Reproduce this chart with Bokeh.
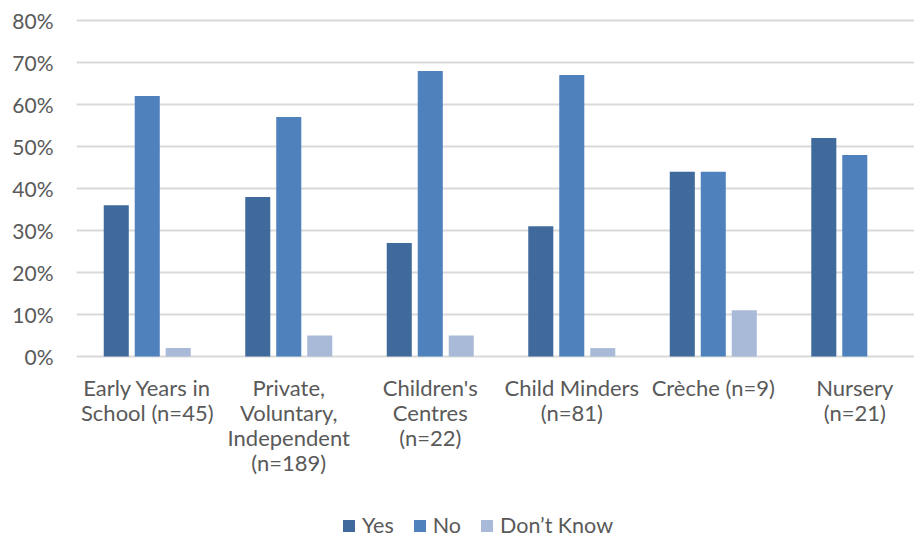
import numpy as np
from bokeh.plotting import figure
from bokeh.models import (ColumnDataSource, Range1d, FixedTicker, PrintfTickFormatter,
                          Legend, LegendItem)
from bokeh.core.properties import value
from bokeh.embed import file_html
from bokeh.resources import INLINE

# Survey responses by setting type (percent of respondents)
categories = [
    "Early Years in\nSchool (n=45)",
    "Private,\nVoluntary,\nIndependent\n(n=189)",
    "Children's\nCentres\n(n=22)",
    "Child Minders\n(n=81)",
    "Crèche (n=9)",
    "Nursery\n(n=21)",
]
yes = [36, 38, 27, 31, 44, 52]
no = [62, 57, 68, 67, 44, 48]
dont_know = [2, 5, 5, 2, 11, 0]
y_ticks = [0, 10, 20, 30, 40, 50, 60, 70, 80]

series = [
    ("Yes", yes, "#3F6A9B", -0.219),
    ("No", no, "#4F81BD", 0.0),
    ("Don\u2019t Know", dont_know, "#A9BAD9", 0.219),
]

FONT = "Lato"
TEXT_COLOR = "#595959"

# Vertical scale: 4.2 px per percentage point; the frame also hosts the
# category names and the legend underneath the 0% baseline.
PX_PER_UNIT = 4.2
TOP_PAD_PX = 2
BELOW_PX = 182
y_start = -BELOW_PX / PX_PER_UNIT
y_end = y_ticks[-1] + TOP_PAD_PX / PX_PER_UNIT
frame_h = int(round((y_end - y_start) * PX_PER_UNIT))

centers = np.arange(len(categories)) + 0.5

p = figure(frame_width=838, frame_height=frame_h, output_backend="svg",
           toolbar_location=None,
           x_range=Range1d(0, 5.922), y_range=Range1d(y_start, y_end),
           min_border_left=76, min_border_right=0, min_border_top=18,
           min_border_bottom=0)
p.outline_line_color = None
p.background_fill_color = "white"
p.border_fill_color = "white"

items = []
for name, vals, color, off in series:
    src = ColumnDataSource(dict(x=centers + off, top=vals))
    r = p.vbar(x="x", top="top", width=0.177, bottom=0, source=src,
               fill_color=color, line_color=None)
    items.append(LegendItem(label=name, renderers=[r]))

# category names under the baseline
label_src = ColumnDataSource(dict(x=centers, y=np.full(len(categories), -17 / PX_PER_UNIT),
                                  text=categories))
p.text(x="x", y="y", text="text", source=label_src, text_align="center",
       text_baseline="top", text_font=value(FONT), text_font_size="22px",
       text_color=TEXT_COLOR, text_line_height=0.93)

# y axis
p.yaxis.ticker = FixedTicker(ticks=y_ticks)
p.yaxis.formatter = PrintfTickFormatter(format="%d%%")
p.yaxis.axis_line_color = None
p.yaxis.major_tick_line_color = None
p.yaxis.minor_tick_line_color = None
p.yaxis.major_tick_out = 0
p.yaxis.major_tick_in = 0
p.yaxis.major_label_text_font = FONT
p.yaxis.major_label_text_font_size = "21px"
p.yaxis.major_label_text_color = TEXT_COLOR
p.yaxis.major_label_standoff = 23

p.xaxis.visible = False
p.xgrid.grid_line_color = None
p.ygrid.ticker = FixedTicker(ticks=y_ticks)
p.ygrid.grid_line_color = "#D9D9D9"
p.ygrid.grid_line_width = 2

legend = Legend(items=items, orientation="horizontal", location=(265, 0),
                label_text_font=FONT, label_text_font_size="21.5px",
                label_text_color=TEXT_COLOR, glyph_width=15, glyph_height=15,
                label_standoff=6, spacing=18, border_line_color=None,
                background_fill_alpha=0, padding=0, margin=0)
p.add_layout(legend, "center")

open("out.html", "w").write(file_html(p, INLINE))
